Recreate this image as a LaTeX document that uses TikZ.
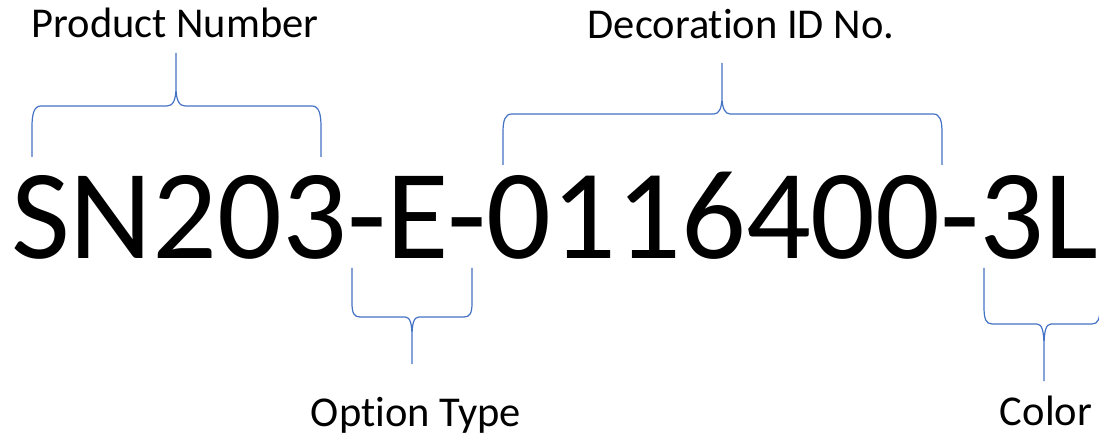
\documentclass[tikz,border=0pt]{standalone}
\usepackage{fontspec}
\setmainfont{Carlito}[Ligatures={NoCommon}]
\definecolor{bracecol}{HTML}{4472C4}

\begin{document}
\begin{tikzpicture}[x=1pt,y=-1pt,brace/.style={draw=bracecol,line width=1.2pt}]
  \clip (0,0) rectangle (1099,435);
  \fill[white] (0,0) rectangle (1099,435);
  \begin{scope}[every node/.style={inner sep=0,anchor=base,font=\fontsize{42.5}{50}\selectfont}]
  \node (pnum) at (175,38) {Product Number};
  \node (decid) at (741,39) {Decoration ID No.};
  \node (opt) at (416,426) {Option Type};
  \node (col) at (1046,425) {Color};
  \end{scope}
  \node[inner sep=0,anchor=base west,font=\fontsize{128}{150}\selectfont] (code) at (11,259) {SN203-E-0116400-3L};
  % braces
  \draw[brace] (32,157) -- (32,127) .. controls (32,114) and (34,106) .. (41,106) -- (167,106)
    .. controls (173,106) and (176,100) .. (176,87) .. controls (176,100) and (179,106) .. (185,106)
    -- (312,106) .. controls (319,106) and (321,114) .. (321,127) -- (321,157) (176,87) -- (176,53);
  \draw[brace] (503,165) -- (503,133) .. controls (503,120) and (505,114) .. (512,114) -- (714,114)
    .. controls (719,114) and (722,108) .. (722,97) .. controls (722,108) and (725,114) .. (730,114)
    -- (933,114) .. controls (940,114) and (942,120) .. (942,133) -- (942,165) (722,97) -- (722,63);
  \draw[brace] (352,268) -- (352,303) .. controls (352,313) and (354,317) .. (360,317) -- (405,317)
    .. controls (410,317) and (412,323) .. (412,337) .. controls (412,323) and (414,317) .. (419,317)
    -- (464,317) .. controls (470,317) and (472,313) .. (472,303) -- (472,268) (412,337) -- (412,364);
  \draw[brace] (984,268) -- (984,307) .. controls (984,319) and (986,324) .. (992,324) -- (1037,324)
    .. controls (1042,324) and (1044,331) .. (1044,347) .. controls (1044,331) and (1046,324) .. (1051,324)
    -- (1092,324) .. controls (1098,324) and (1100,319) .. (1100,307) -- (1100,268) (1044,347) -- (1044,381);
\end{tikzpicture}
\end{document}
